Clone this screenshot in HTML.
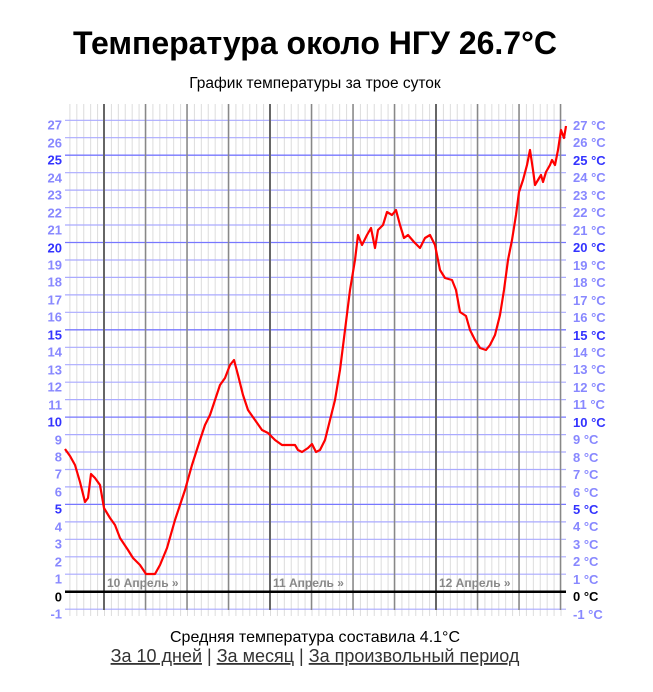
<!DOCTYPE html>
<html><head><meta charset="utf-8"><style>
html,body{margin:0;padding:0;background:#fff;width:653px;height:692px;overflow:hidden}
svg{display:block}
</style></head><body>
<svg width="653" height="692" xmlns="http://www.w3.org/2000/svg" font-family="Liberation Sans, DejaVu Sans, sans-serif">
<defs>
<pattern id="fine" x="104" y="0" width="6.9167" height="700" patternUnits="userSpaceOnUse">
<line x1="0.5" y1="0" x2="0.5" y2="700" stroke="#dcdcdc" stroke-width="1"/>
</pattern>
</defs>
<text x="315" y="54" text-anchor="middle" font-size="32" font-weight="bold" fill="#000">Температура около НГУ 26.7°C</text>
<text x="315" y="88" text-anchor="middle" font-size="15.5" fill="#000">График температуры за трое суток</text>
<rect x="65" y="104" width="501" height="512" fill="url(#fine)"/>
<g stroke="#aaaaff" stroke-width="1.2">
<line x1="65" x2="566" y1="120.3" y2="120.3"/><line x1="65" x2="566" y1="137.7" y2="137.7"/>
<line x1="65" x2="566" y1="172.7" y2="172.7"/><line x1="65" x2="566" y1="190.1" y2="190.1"/>
<line x1="65" x2="566" y1="207.6" y2="207.6"/><line x1="65" x2="566" y1="225.0" y2="225.0"/>
<line x1="65" x2="566" y1="260.0" y2="260.0"/><line x1="65" x2="566" y1="277.4" y2="277.4"/>
<line x1="65" x2="566" y1="294.9" y2="294.9"/><line x1="65" x2="566" y1="312.3" y2="312.3"/>
<line x1="65" x2="566" y1="347.3" y2="347.3"/><line x1="65" x2="566" y1="364.7" y2="364.7"/>
<line x1="65" x2="566" y1="382.2" y2="382.2"/><line x1="65" x2="566" y1="399.6" y2="399.6"/>
<line x1="65" x2="566" y1="434.6" y2="434.6"/><line x1="65" x2="566" y1="452.0" y2="452.0"/>
<line x1="65" x2="566" y1="469.5" y2="469.5"/><line x1="65" x2="566" y1="486.9" y2="486.9"/>
<line x1="65" x2="566" y1="521.9" y2="521.9"/><line x1="65" x2="566" y1="539.3" y2="539.3"/>
<line x1="65" x2="566" y1="556.8" y2="556.8"/><line x1="65" x2="566" y1="574.2" y2="574.2"/>
<line x1="65" x2="566" y1="609.2" y2="609.2"/>
</g>
<g stroke="#7777ff" stroke-width="1.3">
<line x1="65" x2="566" y1="155.2" y2="155.2"/><line x1="65" x2="566" y1="242.5" y2="242.5"/>
<line x1="65" x2="566" y1="329.8" y2="329.8"/><line x1="65" x2="566" y1="417.1" y2="417.1"/>
<line x1="65" x2="566" y1="504.4" y2="504.4"/>
</g>
<g stroke="#888" stroke-width="1.5">
<line x1="145.5" x2="145.5" y1="104" y2="610"/><line x1="187" x2="187" y1="104" y2="610"/>
<line x1="228.5" x2="228.5" y1="104" y2="610"/><line x1="311.5" x2="311.5" y1="104" y2="610"/>
<line x1="353" x2="353" y1="104" y2="610"/><line x1="394.5" x2="394.5" y1="104" y2="610"/>
<line x1="477.5" x2="477.5" y1="104" y2="610"/><line x1="519" x2="519" y1="104" y2="610"/>
<line x1="560.5" x2="560.5" y1="104" y2="610"/>
</g>
<g stroke="#666" stroke-width="2">
<line x1="104" x2="104" y1="104" y2="610"/><line x1="270" x2="270" y1="104" y2="610"/><line x1="436" x2="436" y1="104" y2="610"/>
</g>
<line x1="65" x2="566" y1="591.7" y2="591.7" stroke="#000" stroke-width="2.5"/>
<g font-size="12" font-weight="bold" fill="#888">
<text x="107" y="587">10 Апрель »</text><text x="273" y="587">11 Апрель »</text><text x="439" y="587">12 Апрель »</text>
</g>
<g font-size="13" font-weight="bold" fill="#8888ff" text-anchor="end" transform="translate(0,4.5)">
<text x="62" y="125">27</text><text x="62" y="143">26</text><text x="62" y="160" fill="#3333ff">25</text><text x="62" y="178">24</text><text x="62" y="195">23</text><text x="62" y="213">22</text><text x="62" y="230">21</text><text x="62" y="248" fill="#3333ff">20</text><text x="62" y="265">19</text><text x="62" y="282">18</text><text x="62" y="300">17</text><text x="62" y="317">16</text><text x="62" y="335" fill="#3333ff">15</text><text x="62" y="352">14</text><text x="62" y="370">13</text><text x="62" y="387">12</text><text x="62" y="405">11</text><text x="62" y="422" fill="#3333ff">10</text><text x="62" y="440">9</text><text x="62" y="457">8</text><text x="62" y="474">7</text><text x="62" y="492">6</text><text x="62" y="509" fill="#3333ff">5</text><text x="62" y="527">4</text><text x="62" y="544">3</text><text x="62" y="562">2</text><text x="62" y="579">1</text><text x="62" y="597" fill="#000">0</text><text x="62" y="614">-1</text>
</g>
<g font-size="13" font-weight="bold" fill="#8888ff">
<text x="573" y="130">27 °C</text><text x="573" y="147">26 °C</text><text x="573" y="165" fill="#3333ff">25 °C</text><text x="573" y="182">24 °C</text><text x="573" y="200">23 °C</text><text x="573" y="217">22 °C</text><text x="573" y="235">21 °C</text><text x="573" y="252" fill="#3333ff">20 °C</text><text x="573" y="270">19 °C</text><text x="573" y="287">18 °C</text><text x="573" y="305">17 °C</text><text x="573" y="322">16 °C</text><text x="573" y="340" fill="#3333ff">15 °C</text><text x="573" y="357">14 °C</text><text x="573" y="374">13 °C</text><text x="573" y="392">12 °C</text><text x="573" y="409">11 °C</text><text x="573" y="427" fill="#3333ff">10 °C</text><text x="573" y="444">9 °C</text><text x="573" y="462">8 °C</text><text x="573" y="479">7 °C</text><text x="573" y="497">6 °C</text><text x="573" y="514" fill="#3333ff">5 °C</text><text x="573" y="531">4 °C</text><text x="573" y="549">3 °C</text><text x="573" y="566">2 °C</text><text x="573" y="584">1 °C</text><text x="573" y="601" fill="#000">0 °C</text><text x="573" y="619">-1 °C</text>
</g>
<polyline fill="none" stroke="#ff0000" stroke-width="2.2" stroke-linejoin="round" points="65,449 70,456 75,465 80,482 85,502 88,498 91,474 95,478 100,485 104,508 110,518 115,525 120,538 128,550 133,558 140,565 146,574 155,574 160,565 167,548 175,520 185,490 192,465 200,440 205,425 210,415 215,400 220,385 225,378 230,365 234,360 238,375 243,395 248,410 255,420 262,430 268,433 275,440 282,445 290,445 295,445 298,450 302,452 308,448 312,444 316,452 320,450 325,440 330,420 335,400 340,370 345,330 350,290 355,260 358,235 362,245 367,235 371,228 375,248 378,230 383,225 387,212 392,215 396,210 400,225 404,238 408,235 414,242 420,248 425,238 430,235 435,245 440,270 445,278 452,280 456,290 460,312 466,316 470,330 475,340 480,348 486,350 490,345 495,335 500,315 504,290 508,260 512,240 516,215 519,192 523,180 527,165 530,150 533,170 535,185 538,180 541,175 543,182 546,172 550,165 552,160 555,165 558,150 561,130 564,138 566,126"/>
<text x="315" y="642" text-anchor="middle" font-size="16" fill="#000">Средняя температура составила 4.1°C</text>
<text x="315" y="662" text-anchor="middle" font-size="18" fill="#333"><tspan text-decoration="underline">За 10 дней</tspan> | <tspan text-decoration="underline">За месяц</tspan> | <tspan text-decoration="underline">За произвольный период</tspan></text>
</svg>
</body></html>
